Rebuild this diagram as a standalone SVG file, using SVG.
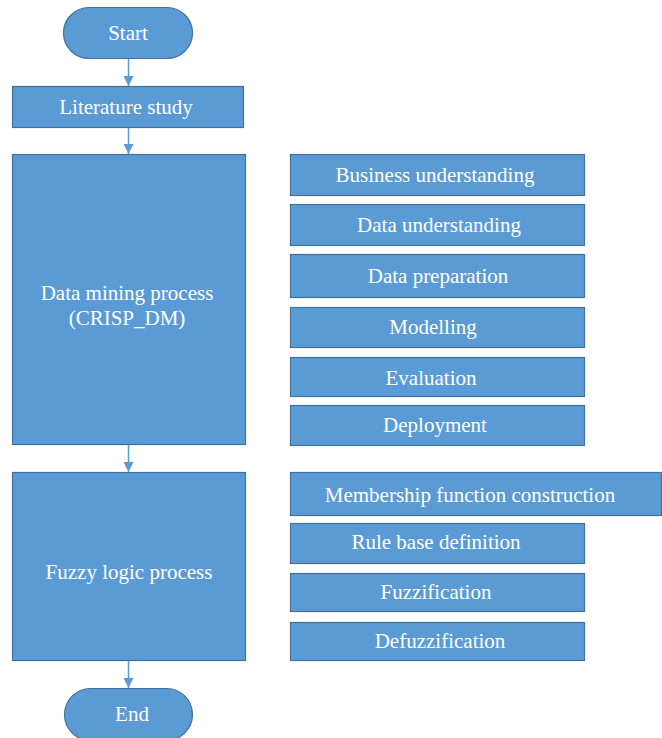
<svg xmlns="http://www.w3.org/2000/svg" width="662" height="738" viewBox="0 0 662 738">
<style>
.box{fill:#5B9BD5;stroke:#41719C;stroke-width:1.2}
.t{font-family:'Liberation Serif','Times New Roman','DejaVu Serif',serif;font-size:21px;fill:#FFFFFF;text-anchor:middle}
.c{stroke:#5B9BD5;stroke-width:1.5;fill:none}
</style>
<defs>
<marker id="ah" viewBox="0 0 10 10" refX="10" refY="5" markerWidth="10" markerHeight="10" markerUnits="userSpaceOnUse" orient="auto">
<path d="M0,0 L10,5 L0,10 Z" fill="#5B9BD5"/>
</marker>
</defs>
<rect width="662" height="738" fill="#FFFFFF"/>
<g id="connectors">
<line class="c" x1="128.5" y1="59" x2="128.5" y2="86" marker-end="url(#ah)"/>
<line class="c" x1="128.5" y1="128" x2="128.5" y2="154" marker-end="url(#ah)"/>
<line class="c" x1="128.5" y1="445" x2="128.5" y2="472" marker-end="url(#ah)"/>
<line class="c" x1="128.5" y1="661" x2="128.5" y2="688" marker-end="url(#ah)"/>
</g>
<g id="start"><rect class="box" x="63.5" y="7.5" width="129" height="51" rx="25.5"/><text class="t" font-family="Liberation Serif, serif" x="128" y="40">Start</text></g>
<g id="literature"><rect class="box" x="12.5" y="86.5" width="231" height="41"/><text class="t" x="126" y="114">Literature study</text></g>
<g id="datamining"><rect class="box" x="12.5" y="154.5" width="233" height="290"/><text class="t" x="127" y="300">Data mining process</text><text class="t" x="127" y="325">(CRISP_DM)</text></g>
<g id="fuzzy"><rect class="box" x="12.5" y="472.5" width="233" height="188"/><text class="t" x="129" y="579">Fuzzy logic process</text></g>
<g id="end"><rect class="box" x="64.5" y="688.5" width="128" height="52" rx="26"/><text class="t" x="132" y="721">End</text></g>
<g id="business"><rect class="box" x="290.5" y="154.5" width="294" height="41"/><text class="t" x="435" y="182">Business understanding</text></g>
<g id="dataunderstanding"><rect class="box" x="290.5" y="204.5" width="294" height="41"/><text class="t" x="439" y="232">Data understanding</text></g>
<g id="datapreparation"><rect class="box" x="290.5" y="254.5" width="294" height="43"/><text class="t" x="438" y="283">Data preparation</text></g>
<g id="modelling"><rect class="box" x="290.5" y="307.5" width="294" height="40"/><text class="t" x="433" y="334">Modelling</text></g>
<g id="evaluation"><rect class="box" x="290.5" y="357.5" width="294" height="39"/><text class="t" x="431" y="385">Evaluation</text></g>
<g id="deployment"><rect class="box" x="290.5" y="405.5" width="294" height="40"/><text class="t" x="435" y="432">Deployment</text></g>
<g id="membership"><rect class="box" x="290.5" y="472.5" width="371" height="43"/><text class="t" x="470" y="502">Membership function construction</text></g>
<g id="rulebase"><rect class="box" x="290.5" y="523.5" width="294" height="40"/><text class="t" x="436" y="549">Rule base definition</text></g>
<g id="fuzzification"><rect class="box" x="290.5" y="573.5" width="294" height="38"/><text class="t" x="436" y="599">Fuzzification</text></g>
<g id="defuzzification"><rect class="box" x="290.5" y="622.5" width="294" height="38"/><text class="t" x="440" y="648">Defuzzification</text></g>
</svg>
